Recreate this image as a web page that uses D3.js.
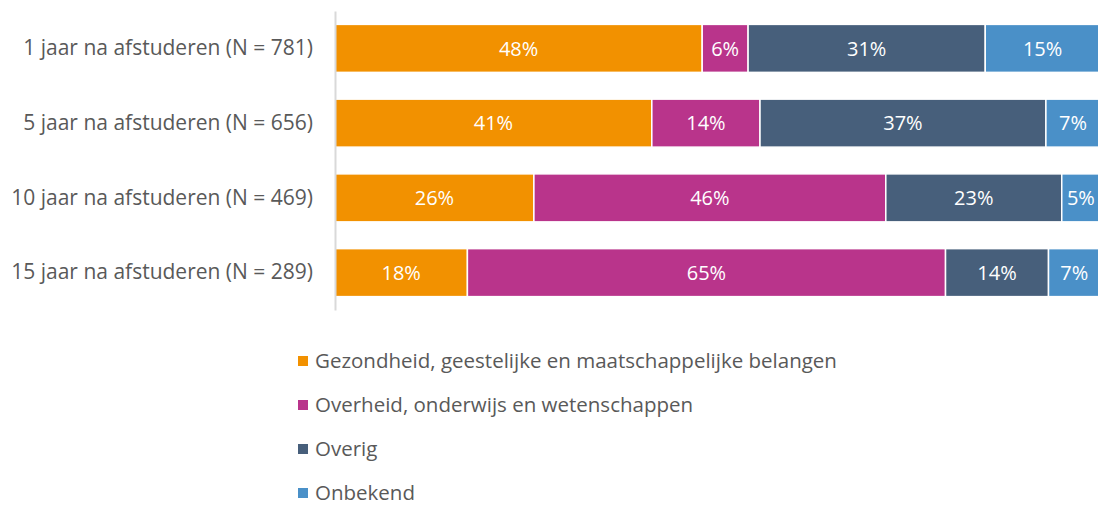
<!DOCTYPE html>
<html>
<head>
<meta charset="utf-8">
<script src="https://cdn.jsdelivr.net/npm/d3@7"></script>
<style>
  body { margin: 0; background: #fff; }
  svg text { font-family: "Open Sans", sans-serif; }
</style>
</head>
<body>
<div id="chart"></div>
<script>
var categories = ["1 jaar na afstuderen (N = 781)", "5 jaar na afstuderen (N = 656)", "10 jaar na afstuderen (N = 469)", "15 jaar na afstuderen (N = 289)"]
var seriesNames = ["Gezondheid, geestelijke en maatschappelijke belangen", "Overheid, onderwijs en wetenschappen", "Overig", "Onbekend"]
var gezondheid = [48, 41, 26, 18]
var overheid = [6, 14, 46, 65]
var overig = [31, 37, 23, 14]
var onbekend = [15, 7, 5, 7]
var colors = ["#F29100", "#B9348B", "#475F7B", "#4A90C8"]

var width = 1098,
    height = 506

// table for d3.stack
var rows = categories.map(function(c, i) {
    return { cat: c, s0: gezondheid[i], s1: overheid[i], s2: overig[i], s3: onbekend[i] }
})
var keys = ["s0", "s1", "s2", "s3"]

var stacked = d3.stack().keys(keys).offset(d3.stackOffsetExpand)(rows)

var svg = d3.select("#chart").append("svg")
    .attr("width", width)
    .attr("height", height)

var x = d3.scaleLinear().domain([0, 1]).range([335, 1100])
var y = d3.scaleBand().domain(categories).range([11, 310]).paddingInner(0.358).paddingOuter(0.179)

// bars
var groups = svg.selectAll("g.series")
    .data(stacked)
    .enter().append("g")
    .attr("class", "series")
    .attr("fill", function(d, i) { return colors[i] })

groups.selectAll("rect")
    .data(function(d) { return d })
    .enter().append("rect")
    .attr("x", function(d) { return x(d[0]) })
    .attr("y", function(d) { return y(d.data.cat) })
    .attr("width", function(d) { return x(d[1]) - x(d[0]) })
    .attr("height", y.bandwidth())
    .attr("stroke", "#fff")
    .attr("stroke-width", 1.5)

// value labels
groups.each(function(s) {
    d3.select(this).selectAll("text")
        .data(s)
        .enter().append("text")
        .attr("x", function(d) { return (x(d[0]) + x(d[1])) / 2 })
        .attr("y", function(d) { return y(d.data.cat) + y.bandwidth() / 2 })
        .attr("dy", "0.36em")
        .attr("text-anchor", "middle")
        .attr("fill", "#fff")
        .attr("font-size", 20)
        .text(function(d) { return d.data[s.key] + "%" })
})

// y axis
var yAxis = svg.append("g")
    .attr("transform", "translate(335,0)")
    .call(d3.axisLeft(y).tickSize(0).tickPadding(22))

yAxis.select(".domain").attr("stroke", "#d9d9d9").attr("stroke-width", 2)
yAxis.selectAll("text")
    .attr("font-size", 21)
    .attr("fill", "#595959")

// legend
var legendY = d3.scalePoint().domain(seriesNames).range([361, 493])

var legend = svg.selectAll("g.legend")
    .data(seriesNames)
    .enter().append("g")
    .attr("class", "legend")
    .attr("transform", function(d) { return "translate(298," + legendY(d) + ")" })

legend.append("rect")
    .attr("x", 0)
    .attr("y", -5)
    .attr("width", 10)
    .attr("height", 10)
    .attr("fill", function(d, i) { return colors[i] })

legend.append("text")
    .attr("x", 17)
    .attr("dy", "0.36em")
    .attr("font-size", 20.5)
    .attr("fill", "#595959")
    .text(function(d) { return d })
</script>
</body>
</html>
